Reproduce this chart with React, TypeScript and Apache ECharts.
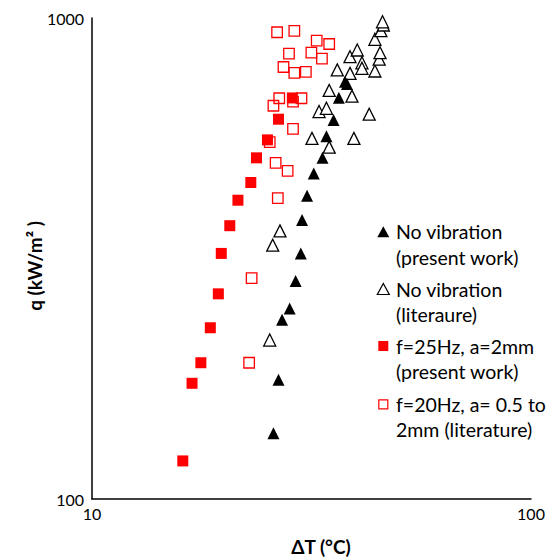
import React, { useEffect, useRef } from "react";
import * as echarts from "echarts";

// ΔT (°C), q (kW/m²)
const noVibrationPresent: number[][] = [
  [25.9, 137], [26.6, 177], [27.1, 236], [28.2, 249], [29.1, 284],
  [29.9, 324], [30.1, 380], [30.9, 427], [32.0, 475], [33.5, 512],
  [34.2, 568], [35.5, 614], [36.5, 683], [37.7, 737], [38.1, 729],
];

const noVibrationLiterature: number[][] = [
  [25.4, 214], [25.8, 337], [26.8, 361], [31.7, 562], [34.7, 539],
  [39.5, 562], [32.9, 639], [34.2, 649], [42.8, 631], [34.7, 707],
  [39.1, 688], [36.2, 780], [38.7, 767], [38.7, 831], [40.2, 858],
  [41.2, 807], [41.2, 786], [44.1, 776], [45.1, 821], [45.3, 847],
  [44.1, 903], [45.5, 941], [46.1, 967], [45.9, 982],
];

const vib25Present: number[][] = [
  [16.1, 120], [16.9, 174], [17.7, 192], [18.6, 227], [19.4, 267],
  [19.7, 324], [20.6, 370], [21.5, 418], [23.0, 455], [23.7, 512],
  [25.1, 558], [26.6, 616], [28.6, 682],
];

const vib20Literature: number[][] = [
  [22.8, 192], [23.1, 288], [26.5, 422], [26.2, 500], [27.9, 481],
  [25.4, 552], [28.7, 588], [25.9, 657], [26.7, 681], [28.7, 670],
  [30.0, 681], [27.3, 791], [28.9, 769], [30.7, 773], [28.1, 843],
  [31.6, 847], [33.4, 823], [32.5, 897], [34.7, 883], [26.4, 934],
  [28.9, 940],
];

const seriesNames = [
  "No vibration (present work)",
  "No vibration (literaure)",
  "f=25Hz, a=2mm (present work)",
  "f=20Hz, a= 0.5 to 2mm (literature)",
];

const legendLines: string[][] = [
  ["No vibration", "(present work)"],
  ["No vibration", "(literaure)"],
  ["f=25Hz, a=2mm", "(present work)"],
  ["f=20Hz, a= 0.5 to", "2mm (literature)"],
];

const xAxisTitle = "ΔT (°C)";
const yAxisTitle = "q (kW/m² )";

const FONT = "Lato, 'Open Sans', sans-serif";

export default function App() {
  const ref = useRef<HTMLDivElement>(null);

  useEffect(() => {
    if (!ref.current) return;
    const chart = echarts.init(ref.current, undefined, { renderer: "svg" });

    const legendFirstY = [231.7, 289, 346, 404.3];
    const lineGap = 25.5;
    const legendTextX = 396;
    const iconX = 383.3;

    const legendGraphics: any[] = [];
    legendLines.forEach((lines, i) => {
      lines.forEach((t, j) => {
        legendGraphics.push({
          type: "text",
          x: legendTextX,
          y: legendFirstY[i] + j * lineGap,
          style: {
            text: t,
            font: `19.5px ${FONT}`,
            fill: "#000",
            align: "left",
            verticalAlign: "middle",
            textAlign: "left",
            textVerticalAlign: "middle",
          },
        });
      });
    });
    const triPts = (cy: number) => [
      [iconX - 6, cy + 5.5],
      [iconX + 6, cy + 5.5],
      [iconX, cy - 5.5],
    ];
    legendGraphics.push({
      type: "polygon",
      shape: { points: triPts(legendFirstY[0]) },
      style: { fill: "#000" },
    });
    legendGraphics.push({
      type: "polygon",
      shape: { points: triPts(legendFirstY[1]) },
      style: { fill: "#fff", stroke: "#000", lineWidth: 1.2 },
    });
    legendGraphics.push({
      type: "rect",
      shape: { x: iconX - 5, y: legendFirstY[2] - 5, width: 10, height: 10 },
      style: { fill: "#ff0000" },
    });
    legendGraphics.push({
      type: "rect",
      shape: { x: iconX - 4.5, y: legendFirstY[3] - 4.5, width: 9, height: 9 },
      style: { fill: "#fff", stroke: "#ff0000", lineWidth: 1.2 },
    });

    const axisCommon = {
      type: "log" as const,
      logBase: 10,
      axisLine: { show: true, lineStyle: { color: "#000", width: 1.5 } },
      axisTick: { show: false },
      minorTick: { show: false },
      splitLine: { show: false },
      minorSplitLine: { show: false },
    };

    chart.setOption({
      animation: false,
      backgroundColor: "#fff",
      grid: { left: 92, right: 23, top: 18, bottom: 61, containLabel: false },
      xAxis: {
        ...axisCommon,
        min: 10,
        max: 100,
        axisLabel: {
          fontSize: 16, fontFamily: FONT, color: "#000", margin: 6,
          formatter: (v: number) => String(Math.round(v)),
        },
      },
      yAxis: {
        ...axisCommon,
        min: 100,
        max: 1000,
        axisLabel: {
          fontSize: 16, fontFamily: FONT, color: "#000", margin: 8,
          formatter: (v: number) => String(Math.round(v)),
        },
      },
      series: [
        {
          name: seriesNames[1],
          type: "scatter",
          symbol: "triangle",
          symbolSize: 12,
          data: noVibrationLiterature,
          itemStyle: { color: "#fff", borderColor: "#000", borderWidth: 1.3, opacity: 1 },
        },
        {
          name: seriesNames[0],
          type: "scatter",
          symbol: "triangle",
          symbolSize: 12,
          data: noVibrationPresent,
          itemStyle: { color: "#000", opacity: 1 },
        },
        {
          name: seriesNames[2],
          type: "scatter",
          symbol: "rect",
          symbolSize: 11,
          data: vib25Present,
          itemStyle: { color: "#ff0000", opacity: 1 },
        },
        {
          name: seriesNames[3],
          type: "scatter",
          symbol: "rect",
          symbolSize: 10.5,
          data: vib20Literature,
          itemStyle: { color: "rgba(255,255,255,0)", borderColor: "#ff0000", borderWidth: 1.3, opacity: 1 },
        },
      ],
      graphic: [
        {
          type: "text",
          x: 321,
          y: 546,
          style: {
            text: xAxisTitle,
            font: `bold 19px ${FONT}`,
            fill: "#000",
            align: "center",
            verticalAlign: "middle",
            textAlign: "center",
            textVerticalAlign: "middle",
          },
        },
        {
          type: "text",
          x: 34,
          y: 266,
          rotation: Math.PI / 2,
          style: {
            text: yAxisTitle,
            font: `bold 19px ${FONT}`,
            fill: "#000",
            align: "center",
            verticalAlign: "middle",
            textAlign: "center",
            textVerticalAlign: "middle",
          },
        },
        ...legendGraphics,
      ],
    });

    return () => chart.dispose();
  }, []);

  return (
    <div
      ref={ref}
      style={{ position: "fixed", left: 0, top: 0, width: 554, height: 560, background: "#fff" }}
    />
  );
}
